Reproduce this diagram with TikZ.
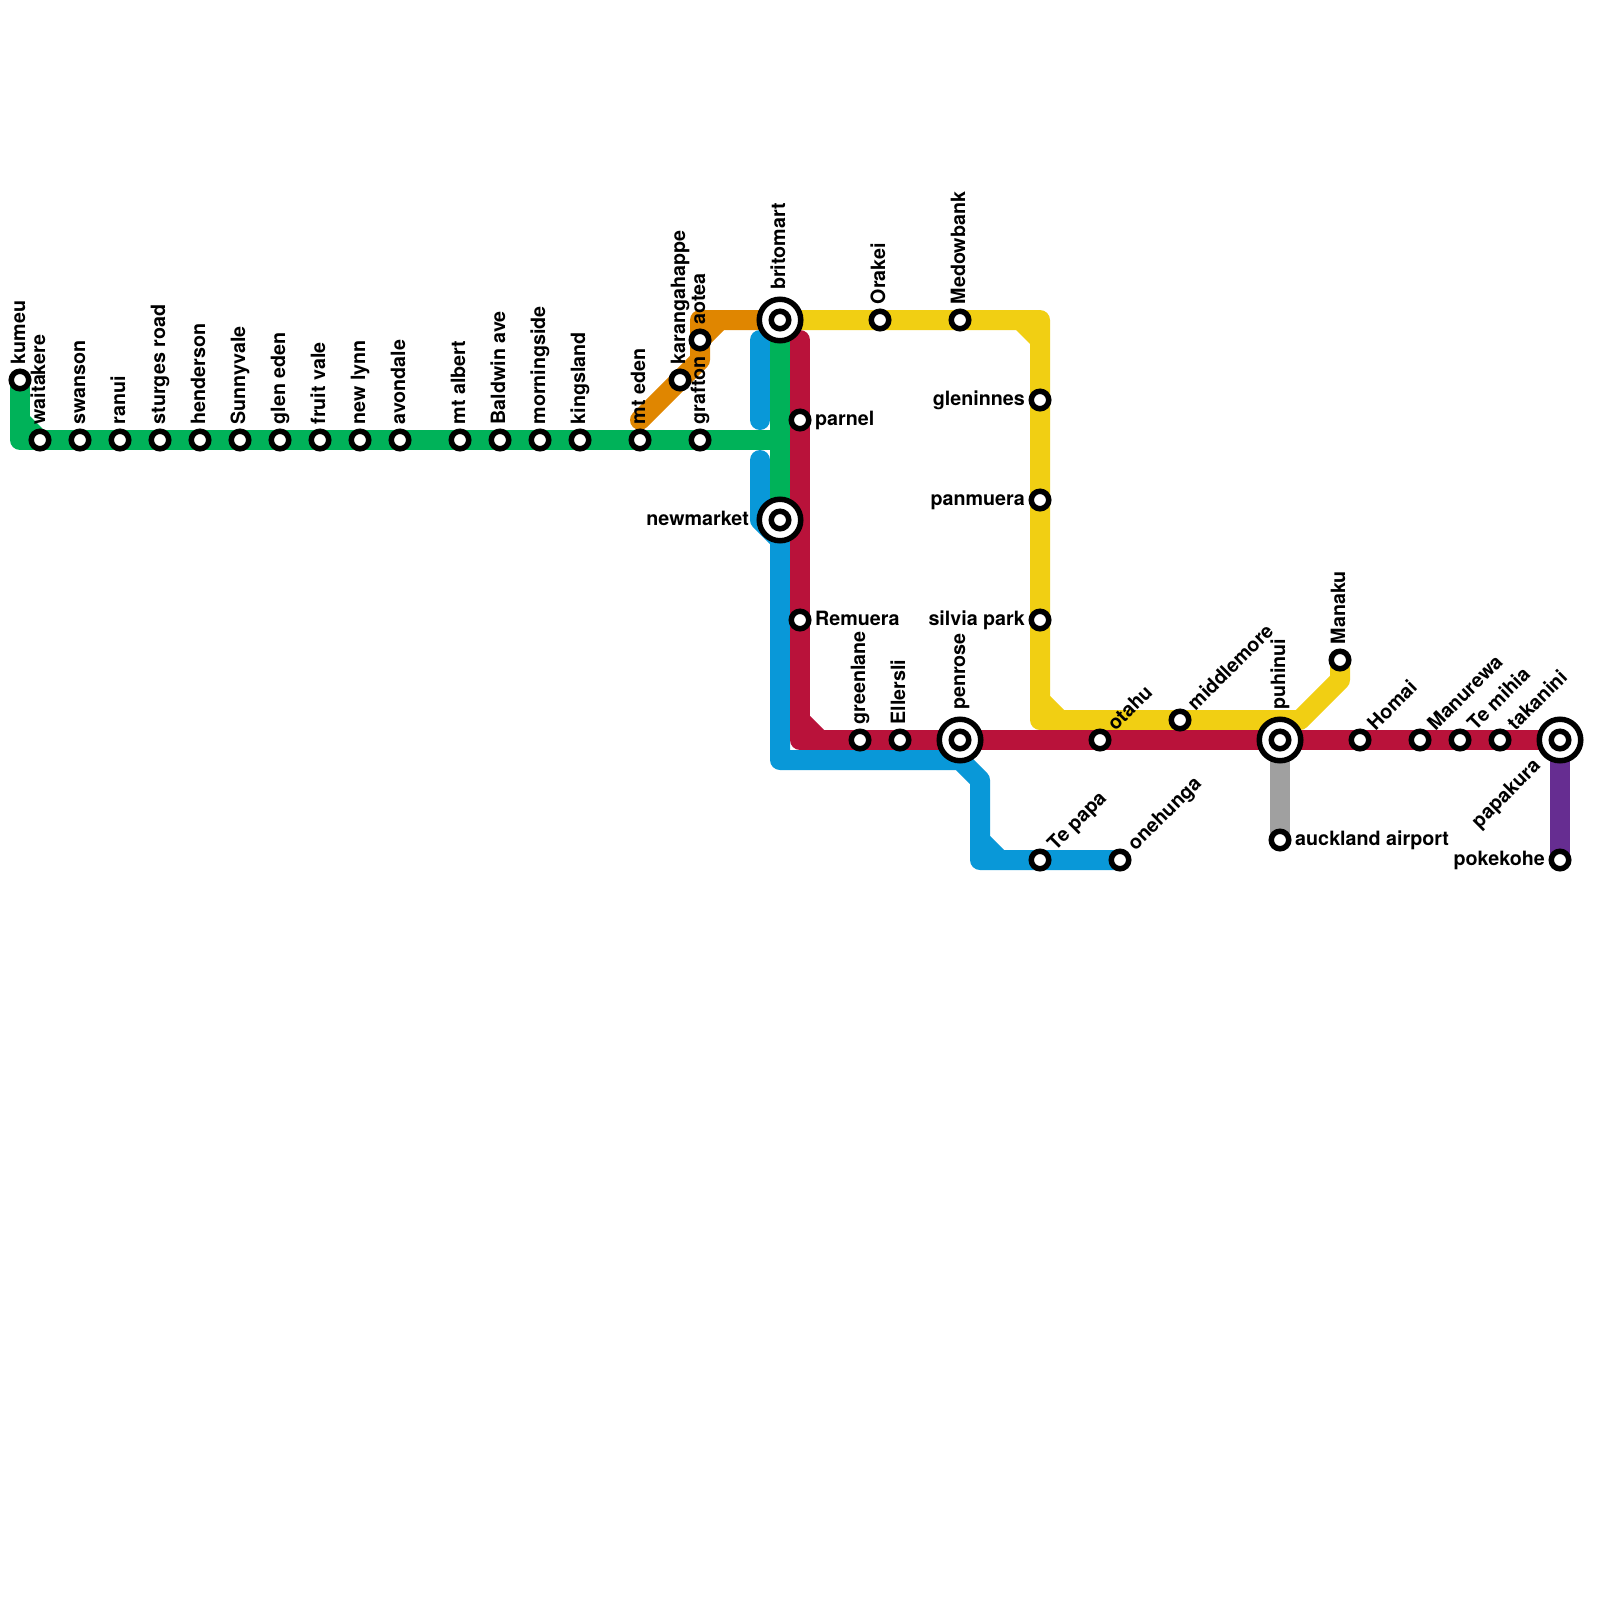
\documentclass[tikz,border=0pt]{standalone}
\usepackage{fontspec}
\setmainfont{TeX Gyre Heros}
\usepackage{tikz}
\usetikzlibrary{backgrounds}
\definecolor{linegreen}{HTML}{00B259}
\definecolor{lineblue}{HTML}{0998D8}
\definecolor{linered}{HTML}{B9123A}
\definecolor{lineyellow}{HTML}{F1CF13}
\definecolor{lineorange}{HTML}{E08600}
\definecolor{linegrey}{HTML}{A0A0A0}
\definecolor{linepurple}{HTML}{662D91}

\begin{document}
\begin{tikzpicture}[x=1pt, y=-1pt, font=\fontsize{19.7}{22}\selectfont\bfseries,
  stop/.style={circle, draw=black, fill=white, line width=5.5pt, minimum size=17.5pt, inner sep=0pt},
  hub/.style={circle, draw=black, fill=white, line width=5.5pt, minimum size=41.5pt, inner sep=0pt},
  track/.style={line width=20pt, line join=round, line cap=round},
  upname/.style={rotate=90, anchor=base west, inner sep=0pt, xshift=15.5pt, yshift=-5pt},
  upnamehub/.style={rotate=90, anchor=base west, inner sep=0pt, xshift=30pt, yshift=-5pt},
  diagname/.style={rotate=45, anchor=base west, inner sep=0pt, xshift=17pt, yshift=-5pt},
  rightname/.style={anchor=base west, inner sep=0pt, xshift=15pt, yshift=-5pt},
  leftname/.style={anchor=base east, inner sep=0pt, xshift=-15pt, yshift=-5pt}]
  \useasboundingbox (0,0) rectangle (1600,1600);

  \node[stop] (kumeu) at (20,380) {};
  \node[upname, at=(kumeu)] (kumeu t) {kumeu};
  \node[stop] (waitakere) at (40,440) {};
  \node[upname, at=(waitakere)] (waitakere t) {waitakere};
  \node[stop] (swanson) at (80,440) {};
  \node[upname, at=(swanson)] (swanson t) {swanson};
  \node[stop] (ranui) at (120,440) {};
  \node[upname, at=(ranui)] (ranui t) {ranui};
  \node[stop] (sturges) at (160,440) {};
  \node[upname, at=(sturges)] (sturges t) {sturges road};
  \node[stop] (henderson) at (200,440) {};
  \node[upname, at=(henderson)] (henderson t) {henderson};
  \node[stop] (sunnyvale) at (240,440) {};
  \node[upname, at=(sunnyvale)] (sunnyvale t) {Sunnyvale};
  \node[stop] (gleneden) at (280,440) {};
  \node[upname, at=(gleneden)] (gleneden t) {glen eden};
  \node[stop] (fruitvale) at (320,440) {};
  \node[upname, at=(fruitvale)] (fruitvale t) {fruit vale};
  \node[stop] (newlynn) at (360,440) {};
  \node[upname, at=(newlynn)] (newlynn t) {new lynn};
  \node[stop] (avondale) at (400,440) {};
  \node[upname, at=(avondale)] (avondale t) {avondale};
  \node[stop] (mtalbert) at (460,440) {};
  \node[upname, at=(mtalbert)] (mtalbert t) {mt albert};
  \node[stop] (baldwin) at (500,440) {};
  \node[upname, at=(baldwin)] (baldwin t) {Baldwin ave};
  \node[stop] (morningside) at (540,440) {};
  \node[upname, at=(morningside)] (morningside t) {morningside};
  \node[stop] (kingsland) at (580,440) {};
  \node[upname, at=(kingsland)] (kingsland t) {kingsland};
  \node[stop] (mteden) at (640,440) {};
  \node[upname, at=(mteden)] (mteden t) {mt eden};
  \node[stop] (grafton) at (700,440) {};
  \node[upname, at=(grafton)] (grafton t) {grafton};
  \node[stop] (karangahappe) at (680,380) {};
  \node[upname, at=(karangahappe)] (karangahappe t) {karangahappe};
  \node[stop] (aotea) at (700,340) {};
  \node[upname, at=(aotea)] (aotea t) {aotea};

  \node[hub] (britomart) at (780,320) {};
  \node[stop] (britomart c) at (britomart) {};
  \node[upnamehub, at=(britomart)] (britomart t) {britomart};
  \node[hub] (newmarket) at (780,520) {};
  \node[stop] (newmarket c) at (newmarket) {};
  \node[leftname, xshift=-16pt, at=(newmarket)] (newmarket t) {newmarket};
  \node[stop] (parnel) at (800,420) {};
  \node[rightname, at=(parnel)] (parnel t) {parnel};
  \node[stop] (remuera) at (800,620) {};
  \node[rightname, at=(remuera)] (remuera t) {Remuera};

  \node[stop] (orakei) at (880,320) {};
  \node[upname, at=(orakei)] (orakei t) {Orakei};
  \node[stop] (medowbank) at (960,320) {};
  \node[upname, at=(medowbank)] (medowbank t) {Medowbank};
  \node[stop] (gleninnes) at (1040,400) {};
  \node[leftname, at=(gleninnes)] (gleninnes t) {gleninnes};
  \node[stop] (panmuera) at (1040,500) {};
  \node[leftname, at=(panmuera)] (panmuera t) {panmuera};
  \node[stop] (silvia) at (1040,620) {};
  \node[leftname, at=(silvia)] (silvia t) {silvia park};

  \node[stop] (greenlane) at (860,740) {};
  \node[upname, at=(greenlane)] (greenlane t) {greenlane};
  \node[stop] (ellersli) at (900,740) {};
  \node[upname, at=(ellersli)] (ellersli t) {Ellersli};
  \node[hub] (penrose) at (960,740) {};
  \node[stop] (penrose c) at (penrose) {};
  \node[upnamehub, at=(penrose)] (penrose t) {penrose};
  \node[stop] (otahu) at (1100,740) {};
  \node[diagname, at=(otahu)] (otahu t) {otahu};
  \node[stop] (middlemore) at (1180,720) {};
  \node[diagname, at=(middlemore)] (middlemore t) {middlemore};
  \node[hub] (puhinui) at (1280,740) {};
  \node[stop] (puhinui c) at (puhinui) {};
  \node[upnamehub, at=(puhinui)] (puhinui t) {puhinui};
  \node[stop] (manaku) at (1340,660) {};
  \node[upname, at=(manaku)] (manaku t) {Manaku};
  \node[stop] (homai) at (1360,740) {};
  \node[diagname, at=(homai)] (homai t) {Homai};
  \node[stop] (manurewa) at (1420,740) {};
  \node[diagname, at=(manurewa)] (manurewa t) {Manurewa};
  \node[stop] (temihia) at (1460,740) {};
  \node[diagname, at=(temihia)] (temihia t) {Te mihia};
  \node[stop] (takanini) at (1500,740) {};
  \node[diagname, at=(takanini)] (takanini t) {takanini};
  \node[hub] (papakura) at (1560,740) {};
  \node[stop] (papakura c) at (papakura) {};
  \node[rotate=45, anchor=base east, inner sep=0pt, xshift=-32pt, yshift=-6pt, at=(papakura)] (papakura t) {papakura};
  \node[stop] (pokekohe) at (1560,860) {};
  \node[leftname, at=(pokekohe)] (pokekohe t) {pokekohe};
  \node[stop] (airport) at (1280,840) {};
  \node[rightname, at=(airport)] (airport t) {auckland airport};
  \node[stop] (tepapa) at (1040,860) {};
  \node[diagname, at=(tepapa)] (tepapa t) {Te papa};
  \node[stop] (onehunga) at (1120,860) {};
  \node[diagname, at=(onehunga)] (onehunga t) {onehunga};

  \coordinate (y1) at (1040,320);
  \coordinate (y2) at (1040,720);
  \coordinate (y3) at (1300,720);
  \coordinate (y4) at (1340,680);
  \coordinate (o1) at (640,420);
  \coordinate (o2) at (700,360);
  \coordinate (o3) at (700,320);
  \coordinate (b1) at (760,340);
  \coordinate (b2) at (760,420);
  \coordinate (b3) at (760,460);
  \coordinate (b4) at (760,520);
  \coordinate (b5) at (780,540);
  \coordinate (b6) at (780,760);
  \coordinate (b7) at (960,760);
  \coordinate (b8) at (980,780);
  \coordinate (b9) at (980,860);
  \coordinate (r1) at (800,340);
  \coordinate (g1) at (780,440);

  \begin{scope}[on background layer]
    \draw[track, lineyellow] (britomart.center) -- (y1) -- (y2) -- (y3) -- (y4) -- (manaku.center);
    \fill[lineyellow] (1016,330) -- (1030,330) -- (1030,344) -- cycle;
    \fill[lineyellow] (1050,696) -- (1050,710) -- (1064,710) -- cycle;
    \draw[track, lineorange] (o1) -- (o2) -- (aotea.center) -- (o3) -- (britomart.center);
    \fill[lineorange] (710,344) -- (710,330) -- (724,330) -- cycle;
    \draw[track, lineblue] (b1) -- (b2);
    \draw[track, lineblue] (b3) -- (b4) -- (b5) -- (b6) -- (b7) -- (b8) -- (b9) -- (onehunga.center);
    \fill[lineblue] (990,836) -- (990,850) -- (1004,850) -- cycle;
    \draw[track, linegreen] (kumeu.center) |- (waitakere.center) -- (g1);
    \draw[track, linegreen] (britomart.center) -- (newmarket.center);
    \fill[linegreen] (30,416) -- (30,430) -- (44,430) -- cycle;
    \draw[track, linered] (r1) -- (parnel.center) -- (remuera.center) |- (greenlane.center) -- (papakura.center);
    \fill[linered] (810,716) -- (810,730) -- (824,730) -- cycle;
    \draw[track, linegrey] (puhinui.center) -- (airport.center);
    \draw[track, linepurple] (papakura.center) -- (pokekohe.center);
  \end{scope}
\end{tikzpicture}
\end{document}
